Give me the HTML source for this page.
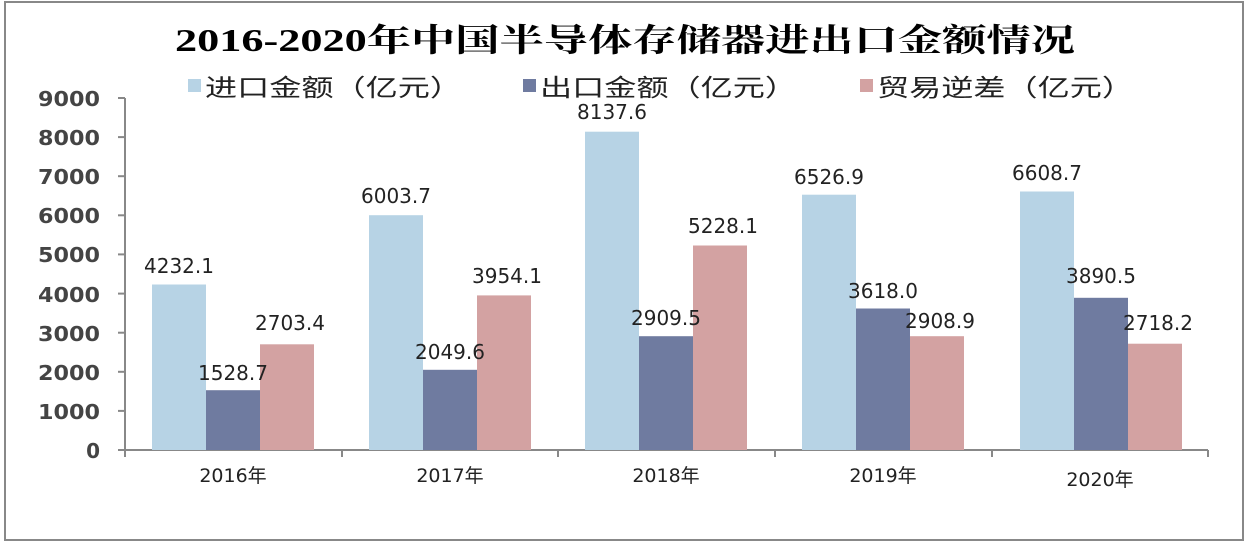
<!DOCTYPE html>
<html><head><meta charset="utf-8"><style>
body{margin:0;background:#fff;}
svg text{font-family:"DejaVu Sans","Noto Sans CJK SC",sans-serif;}
</style></head><body>
<svg width="1254" height="548" xmlns="http://www.w3.org/2000/svg">
<rect x="0" y="0" width="1254" height="548" fill="#fff"/>
<rect x="5" y="2" width="1238" height="538" fill="none" stroke="#888" stroke-width="2"/>
<text x="175" y="51" font-size="32" font-weight="bold" textLength="900" lengthAdjust="spacingAndGlyphs" style="font-family:'Liberation Serif','Noto Serif CJK SC',serif">2016-2020年中国半导体存储器进出口金额情况</text>
<g font-size="24" fill="#222">
<rect x="188" y="79" width="13" height="13" fill="#b7d3e5"/><text x="205" y="96" textLength="257" lengthAdjust="spacingAndGlyphs">进口金额（亿元）</text>
<rect x="523" y="79" width="13" height="13" fill="#6f7ba0"/><text x="540" y="96" textLength="257" lengthAdjust="spacingAndGlyphs">出口金额（亿元）</text>
<rect x="860" y="79" width="13" height="13" fill="#d3a2a2"/><text x="877" y="96" textLength="257" lengthAdjust="spacingAndGlyphs">贸易逆差（亿元）</text>
</g>
<g stroke="#888" stroke-width="2">
<line x1="125" y1="98" x2="125" y2="457"/>
<line x1="118" y1="450" x2="1208" y2="450"/>
<line x1="118" y1="98.0" x2="125" y2="98.0"/><line x1="118" y1="137.1" x2="125" y2="137.1"/><line x1="118" y1="176.2" x2="125" y2="176.2"/><line x1="118" y1="215.3" x2="125" y2="215.3"/><line x1="118" y1="254.4" x2="125" y2="254.4"/><line x1="118" y1="293.6" x2="125" y2="293.6"/><line x1="118" y1="332.7" x2="125" y2="332.7"/><line x1="118" y1="371.8" x2="125" y2="371.8"/><line x1="118" y1="410.9" x2="125" y2="410.9"/>
<line x1="342" y1="450" x2="342" y2="457"/><line x1="558" y1="450" x2="558" y2="457"/><line x1="775" y1="450" x2="775" y2="457"/><line x1="992" y1="450" x2="992" y2="457"/><line x1="1208" y1="450" x2="1208" y2="457"/>
</g>
<g font-size="20" font-weight="bold" fill="#444">
<text x="38" y="106" textLength="62" lengthAdjust="spacingAndGlyphs">9000</text><text x="38" y="145" textLength="62" lengthAdjust="spacingAndGlyphs">8000</text><text x="38" y="184" textLength="62" lengthAdjust="spacingAndGlyphs">7000</text><text x="38" y="223" textLength="62" lengthAdjust="spacingAndGlyphs">6000</text><text x="38" y="262" textLength="62" lengthAdjust="spacingAndGlyphs">5000</text><text x="38" y="302" textLength="62" lengthAdjust="spacingAndGlyphs">4000</text><text x="38" y="341" textLength="62" lengthAdjust="spacingAndGlyphs">3000</text><text x="38" y="380" textLength="62" lengthAdjust="spacingAndGlyphs">2000</text><text x="38" y="419" textLength="62" lengthAdjust="spacingAndGlyphs">1000</text><text x="100" y="458" text-anchor="end">0</text>
</g>
<g>
<rect x="152" y="284.5" width="54" height="165.5" fill="#b7d3e5"/><rect x="206" y="390.2" width="54" height="59.8" fill="#6f7ba0"/><rect x="260" y="344.3" width="54" height="105.7" fill="#d3a2a2"/>
<rect x="369" y="215.2" width="54" height="234.8" fill="#b7d3e5"/><rect x="423" y="369.8" width="54" height="80.2" fill="#6f7ba0"/><rect x="477" y="295.4" width="54" height="154.6" fill="#d3a2a2"/>
<rect x="585" y="131.7" width="54" height="318.3" fill="#b7d3e5"/><rect x="639" y="336.2" width="54" height="113.8" fill="#6f7ba0"/><rect x="693" y="245.5" width="54" height="204.5" fill="#d3a2a2"/>
<rect x="802" y="194.7" width="54" height="255.3" fill="#b7d3e5"/><rect x="856" y="308.5" width="54" height="141.5" fill="#6f7ba0"/><rect x="910" y="336.2" width="54" height="113.8" fill="#d3a2a2"/>
<rect x="1020" y="191.5" width="54" height="258.5" fill="#b7d3e5"/><rect x="1074" y="297.8" width="54" height="152.2" fill="#6f7ba0"/><rect x="1128" y="343.7" width="54" height="106.3" fill="#d3a2a2"/>
</g>
<g font-size="20" fill="#222" text-anchor="middle">
<text x="179" y="273">4232.1</text><text x="233" y="380">1528.7</text><text x="290" y="330">2703.4</text>
<text x="396" y="203">6003.7</text><text x="450" y="359">2049.6</text><text x="507" y="283">3954.1</text>
<text x="612" y="119">8137.6</text><text x="666" y="325">2909.5</text><text x="723" y="233">5228.1</text>
<text x="829" y="184">6526.9</text><text x="883" y="298">3618.0</text><text x="940" y="328">2908.9</text>
<text x="1047" y="180">6608.7</text><text x="1101" y="283">3890.5</text><text x="1158" y="330">2718.2</text>
</g>
<g font-size="19" fill="#222" text-anchor="middle">
<text x="233" y="482">2016年</text><text x="450" y="482">2017年</text><text x="666" y="482">2018年</text><text x="883" y="482">2019年</text><text x="1100" y="486">2020年</text>
</g>
</svg>
</body></html>
